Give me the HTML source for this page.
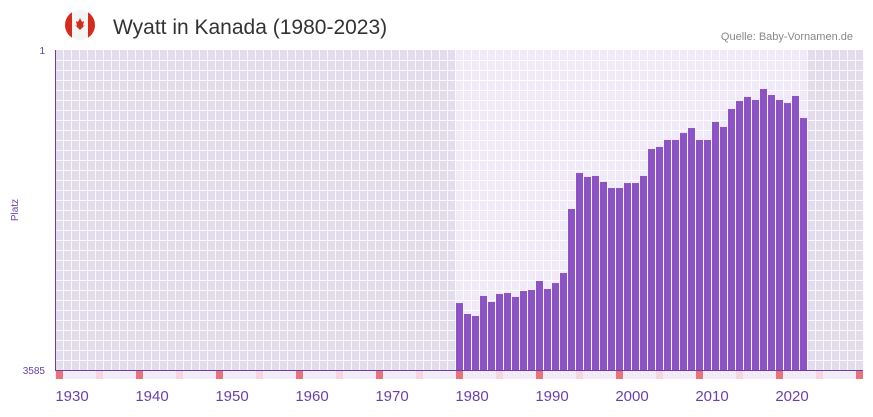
<!DOCTYPE html>
<html><head><meta charset="utf-8"><style>
body{margin:0;background:#fff;width:873px;height:412px;overflow:hidden;font-family:"Liberation Sans",sans-serif}
</style></head><body>
<svg id="chart" width="873" height="412" xmlns="http://www.w3.org/2000/svg">
<defs><clipPath id="fc"><circle cx="80" cy="25" r="15"/></clipPath></defs>
<g clip-path="url(#fc)">
<rect x="65" y="10" width="30" height="30" fill="#f4f4f4"/>
<rect x="65" y="10" width="7" height="30" fill="#d52b1e"/>
<rect x="88" y="10" width="7" height="30" fill="#d52b1e"/>
<polygon points="80,18 82,22 84,21 83,26 85,25 80,30 75,25 77,26 76,21 78,22" fill="#d52b1e"/>
</g>
<text x="113" y="34" font-size="21" fill="#333">Wyatt in Kanada (1980-2023)</text>
<text x="853" y="40" font-size="11" fill="#888" text-anchor="end">Quelle: Baby-Vornamen.de</text>
<text x="18" y="210" font-size="10" fill="#6a3fa8" text-anchor="middle" transform="rotate(-90 18 210)">Platz</text>
<text x="45" y="54" font-size="10" fill="#6a3fa8" text-anchor="end">1</text>
<text x="45" y="374" font-size="10" fill="#6a3fa8" text-anchor="end">3585</text>
<g id="bg"></g><g id="bars"></g><g id="ticks"></g>
<line x1="55.5" y1="50" x2="55.5" y2="370" stroke="#6a3fa8" stroke-width="1"/>
<line x1="55" y1="370.5" x2="863" y2="370.5" stroke="#6a3fa8" stroke-width="1"/>
</svg>
<script>
const years = [1980,1981,1982,1983,1984,1985,1986,1987,1988,1989,1990,1991,1992,1993,1994,1995,1996,1997,1998,1999,2000,2001,2002,2003,2004,2005,2006,2007,2008,2009,2010,2011,2012,2013,2014,2015,2016,2017,2018,2019,2020,2021,2022,2023];
const ranks = [2835,2958,2980,2756,2823,2734,2723,2767,2700,2689,2588,2678,2611,2499,1782,1379,1423,1412,1479,1547,1547,1491,1491,1412,1110,1087,1009,1009,931,875,1009,1009,807,863,662,572,527,561,438,505,561,595,516,763];
const tickYears = [1930,1940,1950,1960,1970,1980,1990,2000,2010,2020];
const rankMin = 1, rankMax = 3585;
const NS="http://www.w3.org/2000/svg";
function xs(y){return 56+(y-1930)*8;}
function ys(r){return 50+(r-rankMin)/(rankMax-rankMin)*320;}
const bg=document.getElementById('bg'),bars=document.getElementById('bars'),tk=document.getElementById('ticks');
function mk(tag,a,p){const e=document.createElementNS(NS,tag);for(const k in a)e.setAttribute(k,a[k]);p.appendChild(e);return e;}
const first=xs(years[0])-1,last=xs(years[years.length-1])+7;
mk('rect',{x:55,y:50,width:808,height:320,fill:'#e2dcec'},bg);
mk('rect',{x:first,y:50,width:last-first,height:320,fill:'#efe9f8'},bg);
for(let x=55+8;x<863;x+=8)mk('line',{x1:x+0.5,y1:50,x2:x+0.5,y2:370,stroke:'#fff','stroke-opacity':0.8},bg);
for(let y=60;y<370;y+=10)mk('line',{x1:55,y1:y+0.5,x2:863,y2:y+0.5,stroke:'#fff','stroke-opacity':0.8},bg);
mk('rect',{x:55,y:371,width:808,height:8,fill:'#f1ecf8'},bg);
for(let i=0;i<101;i++){const x=56+i*8;
 if(i%10===0)mk('rect',{x:x,y:371,width:7,height:8,fill:'#e8737a'},bg);
 else if(i%10===5)mk('rect',{x:x,y:371,width:7,height:8,fill:'#f5d5e0'},bg);}
years.forEach((yr,i)=>{const y=ys(ranks[i]);
 const r=mk('rect',{x:xs(yr),y:y,width:7,height:370-y,fill:'#8c52c6'},bars);
 
 });
tickYears.forEach(t=>{const e=mk('text',{x:xs(t)+16,y:401,'font-size':15,fill:'#6a3fa8','text-anchor':'middle'},tk);e.textContent=t;
 
 });
</script>
</body></html>
